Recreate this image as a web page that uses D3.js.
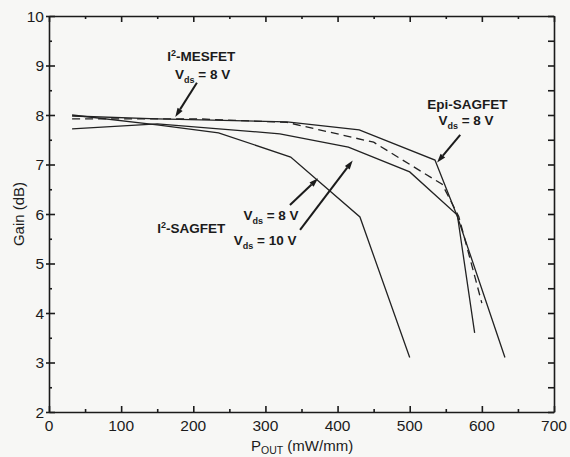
<!DOCTYPE html>
<html>
<head>
<meta charset="utf-8">
<script src="https://cdn.jsdelivr.net/npm/d3@7"></script>
<style>
body { margin: 0; background: #f7f7f5; }
svg { display: block; }
text { font-family: "Liberation Sans", Arial, sans-serif; fill: #1b1b1b; }
.note { font-family: "Liberation Sans Narrow", "Arial Narrow", "Liberation Sans", Arial, sans-serif; font-weight: bold; font-size: 13.5px; }
</style>
</head>
<body>
<div id="chart"></div>
<script>
// values: P_out (mW/mm) vs gain (dB)
const mesfetPout = [32, 210, 330, 450, 545, 568, 600];
const mesfetGain = [7.92, 7.92, 7.85, 7.45, 6.6, 5.95, 4.2];

const epiPout = [32, 150, 330, 430, 535, 566, 632];
const epiGain = [7.98, 7.92, 7.86, 7.7, 7.09, 5.95, 3.1];

const sag10Pout = [32, 150, 320, 415, 500, 566, 590];
const sag10Gain = [7.72, 7.82, 7.62, 7.35, 6.85, 5.98, 3.6];

const sag8Pout = [32, 150, 235, 335, 431, 500];
const sag8Gain = [8.0, 7.8, 7.64, 7.15, 5.94, 3.1];

const xTickValues = [0, 100, 200, 300, 400, 500, 600, 700];
const yTickValues = [2, 3, 4, 5, 6, 7, 8, 9, 10];

// arrows: [from x, from y, to x, to y] in data units
const arrowMesfet = [205, 8.65, 175, 7.96];
const arrowEpi = [570, 7.6, 538, 7.04];
const arrowSag8 = [334, 6.18, 373, 6.72];
const arrowSag10 = [348, 5.68, 421, 7.08];

function initializeGainChart() {

	let svg = d3.select("#chart")
		.append("svg")
		.attr("width", 570)
		.attr("height", 457);

	let xScale = d3.scaleLinear()
		.domain([0, 700])
		.range([49, 554]);

	let yScale = d3.scaleLinear()
		.domain([2, 10])
		.range([412, 16]);

	let minorX = d3.range(0, 701, 50);
	let minorY = d3.range(2, 10.01, 0.5);

	// bottom + top axes, ticks pointing in
	let bottom = svg.append("g")
		.attr("transform", "translate(0, 412)")
		.call(d3.axisBottom(xScale).tickValues(minorX).tickSize(0).tickFormat(""));
	bottom.selectAll(".tick line")
		.attr("y2", d => d % 100 === 0 ? -6 : -3);

	let top = svg.append("g")
		.attr("transform", "translate(0, 16)")
		.call(d3.axisTop(xScale).tickValues(minorX).tickSize(0).tickFormat(""));
	top.selectAll(".tick line")
		.attr("y2", d => d % 100 === 0 ? 6 : 3);

	let left = svg.append("g")
		.attr("transform", "translate(49, 0)")
		.call(d3.axisLeft(yScale).tickValues(minorY).tickSize(0).tickFormat(""));
	left.selectAll(".tick line")
		.attr("x1", d => d % 1 === 0 ? -3 : 0)
		.attr("x2", d => d % 1 === 0 ? 6 : 3);

	let right = svg.append("g")
		.attr("transform", "translate(554, 0)")
		.call(d3.axisRight(yScale).tickValues(minorY).tickSize(0).tickFormat(""));
	right.selectAll(".tick line")
		.attr("x2", -6);

	svg.selectAll(".domain, .tick line")
		.attr("stroke", "#1b1b1b")
		.attr("stroke-width", 1.6);

	// tick labels
	svg.append("g")
		.selectAll("text")
		.data(xTickValues)
		.join("text")
		.attr("x", d => xScale(d))
		.attr("y", 431)
		.attr("text-anchor", "middle")
		.attr("font-size", 15.5)
		.text(d => d);

	svg.append("g")
		.selectAll("text")
		.data(yTickValues)
		.join("text")
		.attr("x", 44)
		.attr("y", d => yScale(d) + 5.5)
		.attr("text-anchor", "end")
		.attr("font-size", 15.5)
		.text(d => d);

	// axis titles
	svg.append("text")
		.attr("transform", "translate(24, 214) rotate(-90)")
		.attr("text-anchor", "middle")
		.attr("font-size", 15)
		.text("Gain (dB)");

	let xTitle = svg.append("text")
		.attr("x", 251)
		.attr("y", 451)
		.attr("font-size", 15);
	xTitle.append("tspan").text("P");
	xTitle.append("tspan").attr("font-size", 10.5).attr("dy", 3).text("OUT");
	xTitle.append("tspan").attr("dy", -3).text(" (mW/mm)");

	// curves
	let line = d3.line()
		.x(d => xScale(d[0]))
		.y(d => yScale(d[1]));

	let curves = [
		{ x: mesfetPout, y: mesfetGain, dash: "8,5" },
		{ x: epiPout, y: epiGain, dash: null },
		{ x: sag10Pout, y: sag10Gain, dash: null },
		{ x: sag8Pout, y: sag8Gain, dash: null }
	];

	curves.forEach(c => {
		svg.append("path")
			.datum(d3.zip(c.x, c.y))
			.attr("d", line)
			.attr("fill", "none")
			.attr("stroke", "#222")
			.attr("stroke-width", 1.3)
			.attr("stroke-dasharray", c.dash);
	});

	// arrows
	[arrowMesfet, arrowEpi, arrowSag8, arrowSag10].forEach(a => {
		let x1 = xScale(a[0]), y1 = yScale(a[1]);
		let x2 = xScale(a[2]), y2 = yScale(a[3]);
		let ang = Math.atan2(y2 - y1, x2 - x1);
		let len = 9, half = 3;
		let bx = x2 - len * Math.cos(ang), by = y2 - len * Math.sin(ang);
		svg.append("line")
			.attr("x1", x1).attr("y1", y1)
			.attr("x2", bx).attr("y2", by)
			.attr("stroke", "#1b1b1b")
			.attr("stroke-width", 2);
		svg.append("path")
			.attr("d", "M" + x2 + "," + y2
				+ "L" + (bx + half * Math.sin(ang)) + "," + (by - half * Math.cos(ang))
				+ "L" + (bx - half * Math.sin(ang)) + "," + (by + half * Math.cos(ang)) + "Z")
			.attr("fill", "#1b1b1b");
	});

	// annotation text
	function vds(x, y, volts, anchor) {
		let t = svg.append("text")
			.attr("class", "note")
			.attr("x", xScale(x))
			.attr("y", yScale(y))
			.attr("text-anchor", anchor);
		t.append("tspan").text("V");
		t.append("tspan").attr("font-size", 9).attr("dy", 4).text("ds");
		t.append("tspan").attr("dy", -4).text(" = " + volts + " V");
	}

	function device(x, y, name, sup, anchor) {
		let t = svg.append("text")
			.attr("class", "note")
			.attr("x", xScale(x))
			.attr("y", yScale(y))
			.attr("text-anchor", anchor);
		if (sup) {
			t.append("tspan").text("I");
			t.append("tspan").attr("font-size", 9).attr("dy", -5).text("2");
			t.append("tspan").attr("dy", 5).text(name);
		} else {
			t.append("tspan").text(name);
		}
	}

	device(211, 9.1, "-MESFET", true, "middle");
	vds(213, 8.73, 8, "middle");

	device(580, 8.12, "Epi-SAGFET", false, "middle");
	vds(578, 7.8, 8, "middle");

	device(150, 5.62, "-SAGFET", true, "start");
	vds(346, 5.88, 8, "end");
	vds(343, 5.37, 10, "end");
}

initializeGainChart();
</script>
</body>
</html>
